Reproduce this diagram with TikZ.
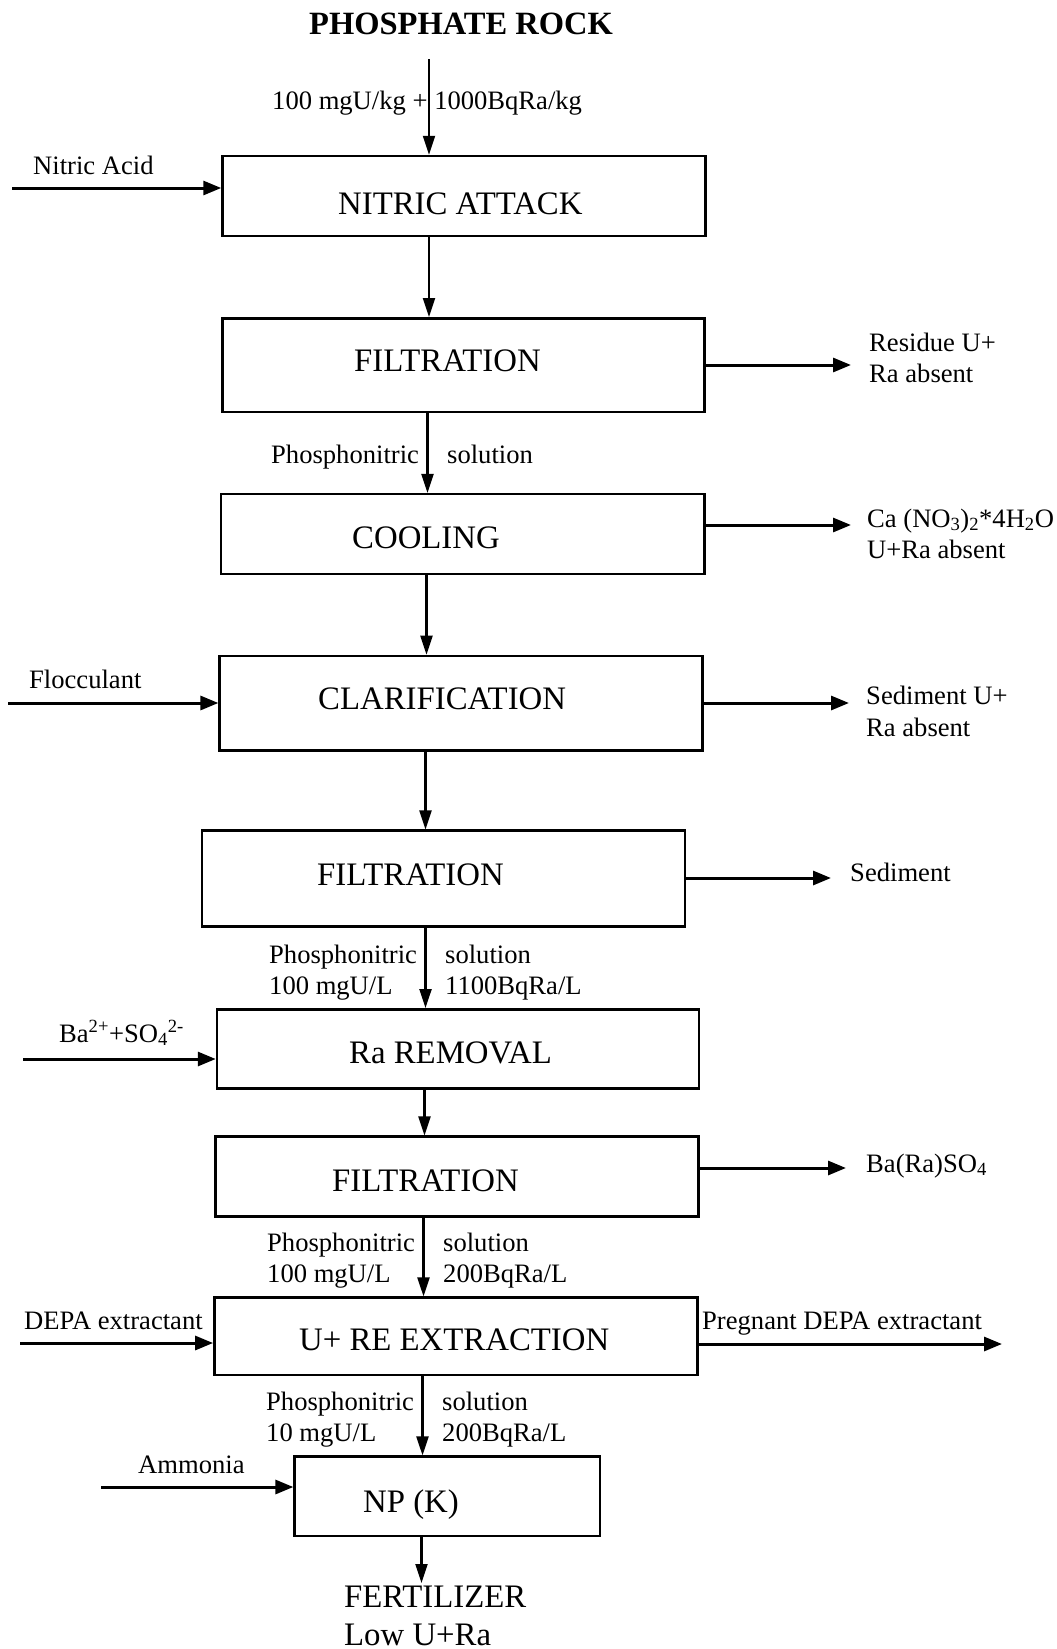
\documentclass[tikz,border=0pt]{standalone}
\usepackage{fontspec}
\setmainfont{Liberation Serif}
\usetikzlibrary{arrows.meta}
\begin{document}
\begin{tikzpicture}[x=1pt,y=-1pt,
  box/.style={draw, line width=2.5pt, inner sep=0pt},
  big/.style={font=\fontsize{32.8}{38}\selectfont, inner sep=0pt, anchor=base west},
  small/.style={font=\fontsize{26.6}{31}\selectfont, inner sep=0pt, anchor=base west},
  flow/.style={line width=2.2pt, -{Triangle[length=19pt,width=12pt]}},
  side/.style={line width=3pt, -{Triangle[length=18pt,width=14pt]}},
]
\fill[white] (0,0) rectangle (1057,1649);
\useasboundingbox (0,0) rectangle (1057,1649);

% boxes
\node[box, minimum width=483pt, minimum height=80pt]   (b1) at (464,196) {};
\node[box, minimum width=482pt, minimum height=93.5pt] (b2) at (463.5,365) {};
\node[box, minimum width=483.5pt, minimum height=80pt] (b3) at (462.8,534.2) {};
\node[box, minimum width=482.7pt, minimum height=94.7pt] (b4) at (461,703.3) {};
\node[box, minimum width=483pt, minimum height=96pt]   (b5) at (443.5,878.7) {};
\node[box, minimum width=482pt, minimum height=79pt]   (b6) at (458,1048.8) {};
\node[box, minimum width=482.7pt, minimum height=80pt] (b7) at (457,1176.7) {};
\node[box, minimum width=483.3pt, minimum height=77.3pt] (b8) at (456,1336.3) {};
\node[box, minimum width=305.4pt, minimum height=79.3pt] (b9) at (447.3,1496.3) {};

% box texts
\node[big, anchor=base, font=\fontsize{32.5}{38}\selectfont\bfseries] (title) at (461,34) {PHOSPHATE ROCK};
\node[big] (tb1) at (338,214) {NITRIC ATTACK};
\node[big] (tb2) at (354,371) {FILTRATION};
\node[big] (tb3) at (352,548) {COOLING};
\node[big] (tb4) at (318,709) {CLARIFICATION};
\node[big] (tb5) at (317,885) {FILTRATION};
\node[big] (tb6) at (349,1063) {Ra REMOVAL};
\node[big] (tb7) at (332,1191) {FILTRATION};
\node[big] (tb8) at (299,1350) {U+ RE EXTRACTION};
\node[big] (tb9) at (363,1512) {NP (K)};
\node[big] (fert) at (344,1607) {FERTILIZER};
\node[big] (fert2) at (344,1645) {Low U+Ra};

% main flow
\coordinate (f0) at (429,59);
\coordinate (f1) at (429,0);
\coordinate (f2) at (427.5,0);
\coordinate (f3) at (426.5,0);
\coordinate (f4) at (425.5,0);
\coordinate (f5) at (425.5,0);
\coordinate (f6) at (424.5,0);
\coordinate (f7) at (423.5,0);
\coordinate (f8) at (422.5,0);
\coordinate (f9) at (421.5,1583);
\draw[flow] (f0) -- (f0 |- b1.north);
\draw[flow] (f1 |- b1.south) -- (f1 |- b2.north);
\draw[flow] (f2 |- b2.south) -- (f2 |- b3.north);
\draw[flow] (f3 |- b3.south) -- (f3 |- b4.north);
\draw[flow] (f4 |- b4.south) -- (f4 |- b5.north);
\draw[flow] (f5 |- b5.south) -- (f5 |- b6.north);
\draw[flow] (f6 |- b6.south) -- (f6 |- b7.north);
\draw[flow] (f7 |- b7.south) -- (f7 |- b8.north);
\draw[flow] (f8 |- b8.south) -- (f8 |- b9.north);
\draw[flow] (f9 |- b9.south) -- (f9);

% left inputs
\coordinate (i1) at (12,188);
\coordinate (i4) at (8,703);
\coordinate (i6) at (23,1059);
\coordinate (i8) at (20,1343);
\coordinate (i9) at (101,1487);
\draw[side] (i1) -- (i1 -| b1.west);
\draw[side] (i4) -- (i4 -| b4.west);
\draw[side] (i6) -- (i6 -| b6.west);
\draw[side] (i8) -- (i8 -| b8.west);
\draw[side] (i9) -- (i9 -| b9.west);

% right outputs
\coordinate (o2) at (851,365);
\coordinate (o3) at (851,525);
\coordinate (o4) at (849,703);
\coordinate (o5) at (831,878);
\coordinate (o7) at (846,1168);
\coordinate (o8) at (1002,1344);
\draw[side] (o2 -| b2.east) -- (o2);
\draw[side] (o3 -| b3.east) -- (o3);
\draw[side] (o4 -| b4.east) -- (o4);
\draw[side] (o5 -| b5.east) -- (o5);
\draw[side] (o7 -| b7.east) -- (o7);
\draw[side] (o8 -| b8.east) -- (o8);

% labels
\node[small] (l0) at (272,109) {100 mgU/kg + 1000BqRa/kg};
\node[small] (l1) at (33,174) {Nitric Acid};
\node[small] (r2a) at (869,351) {Residue U+};
\node[small] (r2b) at (869,382) {Ra absent};
\node[small] (m2a) at (271,463) {Phosphonitric};
\node[small] (m2b) at (447,463) {solution};
\node[small] (r3a) at (867,527) {Ca (NO\textsubscript{3})\textsubscript{2}*4H\textsubscript{2}O};
\node[small] (r3b) at (867,558) {U+Ra absent};
\node[small] (l4) at (29,688) {Flocculant};
\node[small] (r4a) at (866,704) {Sediment U+};
\node[small] (r4b) at (866,736) {Ra absent};
\node[small] (r5) at (850,881) {Sediment};
\node[small] (m5a) at (269,963) {Phosphonitric};
\node[small] (m5b) at (445,963) {solution};
\node[small] (m5c) at (269,994) {100 mgU/L};
\node[small] (m5d) at (445,994) {1100BqRa/L};
\node[small] (l6) at (59,1042) {Ba\textsuperscript{2+}+SO\textsubscript{4}\textsuperscript{2-}};
\node[small] (r7) at (866,1172) {Ba(Ra)SO\textsubscript{4}};
\node[small] (m7a) at (267,1251) {Phosphonitric};
\node[small] (m7b) at (443,1251) {solution};
\node[small] (m7c) at (267,1282) {100 mgU/L};
\node[small] (m7d) at (443,1282) {200BqRa/L};
\node[small] (l8) at (24,1329) {DEPA extractant};
\node[small] (r8) at (702,1329) {Pregnant DEPA extractant};
\node[small] (m8a) at (266,1410) {Phosphonitric};
\node[small] (m8b) at (442,1410) {solution};
\node[small] (m8c) at (266,1441) {10 mgU/L};
\node[small] (m8d) at (442,1441) {200BqRa/L};
\node[small] (l9) at (138,1473) {Ammonia};
\end{tikzpicture}
\end{document}
